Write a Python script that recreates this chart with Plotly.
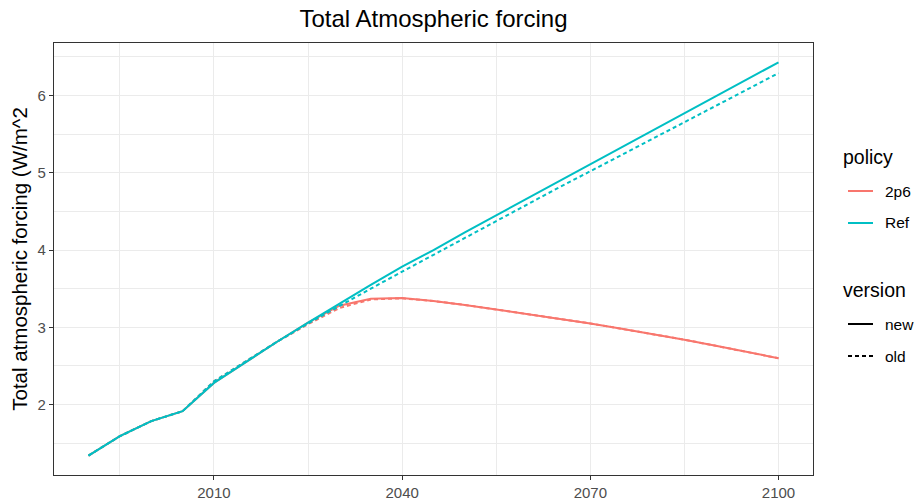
import plotly.graph_objects as go

years = [1990, 1995, 2000, 2005, 2010, 2015, 2020, 2025, 2030, 2035, 2040, 2045, 2050,
         2055, 2060, 2065, 2070, 2075, 2080, 2085, 2090, 2095, 2100]

ref_new = [1.34, 1.59, 1.785, 1.914, 2.28, 2.55, 2.81, 3.06, 3.31, 3.55, 3.785, 4.00, 4.23,
           4.45, 4.67, 4.89, 5.11, 5.33, 5.55, 5.77, 5.99, 6.21, 6.43]
ref_old = [1.34, 1.59, 1.785, 1.914, 2.30, 2.56, 2.81, 3.05, 3.28, 3.50, 3.72, 3.94, 4.16,
           4.38, 4.59, 4.81, 5.02, 5.23, 5.45, 5.66, 5.87, 6.08, 6.29]
p26_new = [1.34, 1.59, 1.785, 1.914, 2.28, 2.55, 2.81, 3.06, 3.28, 3.37, 3.38, 3.34, 3.29,
           3.23, 3.17, 3.11, 3.05, 2.98, 2.91, 2.84, 2.76, 2.68, 2.60]
p26_old = [1.34, 1.59, 1.785, 1.914, 2.30, 2.56, 2.81, 3.04, 3.25, 3.36, 3.375, 3.34, 3.29,
           3.23, 3.17, 3.11, 3.05, 2.98, 2.91, 2.84, 2.76, 2.68, 2.60]

policies = ["2p6", "Ref"]
versions = ["new", "old"]
colors = {"2p6": "#F8766D", "Ref": "#00BFC4"}
dashes = {"new": "solid", "old": "4px,3px"}
series = {("2p6", "new"): p26_new, ("2p6", "old"): p26_old,
          ("Ref", "new"): ref_new, ("Ref", "old"): ref_old}

x_ticks = [2010, 2040, 2070, 2100]
x_minor = [1995, 2025, 2055, 2085]
y_ticks = [2, 3, 4, 5, 6]
y_minor = [1.5, 2.5, 3.5, 4.5, 5.5, 6.5]

FONT = "Liberation Sans, Arial, sans-serif"
W, H = 916, 501
ML, MR, MT, MB = 54, 103, 43, 26
PW, PH = W - ML - MR, H - MT - MB

def px(x):
    return (x - ML) / PW

def py(y):
    return (H - MB - y) / PH

fig = go.Figure()

for p in policies:
    for v in versions:
        fig.add_trace(go.Scatter(
            x=years, y=series[(p, v)], mode="lines",
            line=dict(color=colors[p], width=2, dash=dashes[v]),
            showlegend=False, name=f"{p} {v}"))

# manual legend (ggplot style)
shapes = []
annotations = []
leg_x0, leg_x1, leg_tx = 848, 873, 884
annotations.append(dict(text="policy", x=px(842), y=py(157), xref="paper", yref="paper",
                        xanchor="left", yanchor="middle", showarrow=False, borderpad=0,
                        font=dict(size=19.5, color="#000000", family=FONT)))
for p, yy in zip(policies, [191, 223]):
    shapes.append(dict(type="line", xref="paper", yref="paper", x0=px(leg_x0), x1=px(leg_x1),
                       y0=py(yy), y1=py(yy), line=dict(color=colors[p], width=2)))
    annotations.append(dict(text=p, x=px(leg_tx), y=py(yy), xref="paper", yref="paper",
                            xanchor="left", yanchor="middle", showarrow=False, borderpad=0,
                            font=dict(size=15.5, color="#000000", family=FONT)))
annotations.append(dict(text="version", x=px(842), y=py(290), xref="paper", yref="paper",
                        xanchor="left", yanchor="middle", showarrow=False, borderpad=0,
                        font=dict(size=19.5, color="#000000", family=FONT)))
for v, yy in zip(versions, [324, 356]):
    shapes.append(dict(type="line", xref="paper", yref="paper", x0=px(leg_x0), x1=px(leg_x1),
                       y0=py(yy), y1=py(yy), line=dict(color="#000000", width=2, dash=dashes[v])))
    annotations.append(dict(text=v, x=px(leg_tx), y=py(yy), xref="paper", yref="paper",
                            xanchor="left", yanchor="middle", showarrow=False, borderpad=0,
                            font=dict(size=15.5, color="#000000", family=FONT)))

fig.update_layout(
    width=W, height=H,
    margin=dict(l=ML, r=MR, t=MT, b=MB),
    paper_bgcolor="white", plot_bgcolor="white",
    font=dict(family=FONT, color="#000000"),
    showlegend=False,
    title=dict(text="Total Atmospheric forcing", x=0.5, xref="paper", xanchor="center",
               y=1 - 19 / H, yref="container", yanchor="middle",
               font=dict(size=24, color="#000000", family=FONT)),
    shapes=shapes,
    annotations=annotations,
    xaxis=dict(range=[1984.5, 2105.5], tickvals=x_ticks, ticks="outside", ticklen=4,
               tickcolor="#333333", tickwidth=1.3,
               tickfont=dict(size=15, color="#4D4D4D"),
               showgrid=True, gridcolor="#EBEBEB", gridwidth=1.4,
               minor=dict(tickvals=x_minor, showgrid=True,
                          gridcolor="#EBEBEB", gridwidth=0.8, ticks=""),
               showline=True, linecolor="#333333", linewidth=1.3, mirror=True,
               zeroline=False, automargin=False),
    yaxis=dict(range=[1.088, 6.68], tickvals=y_ticks, ticks="outside", ticklen=4,
               tickcolor="#333333", tickwidth=1.3,
               tickfont=dict(size=15, color="#4D4D4D"),
               showgrid=True, gridcolor="#EBEBEB", gridwidth=1.4,
               minor=dict(tickvals=y_minor, showgrid=True,
                          gridcolor="#EBEBEB", gridwidth=0.8, ticks=""),
               showline=True, linecolor="#333333", linewidth=1.3, mirror=True,
               zeroline=False, automargin=False,
               title=dict(text="Total atmospheric forcing (W/m^2", standoff=4,
                          font=dict(size=20.5, color="#000000"))),
)

fig.write_html("out.html", config={"displayModeBar": False},
               post_script="document.body.style.margin='0';")
